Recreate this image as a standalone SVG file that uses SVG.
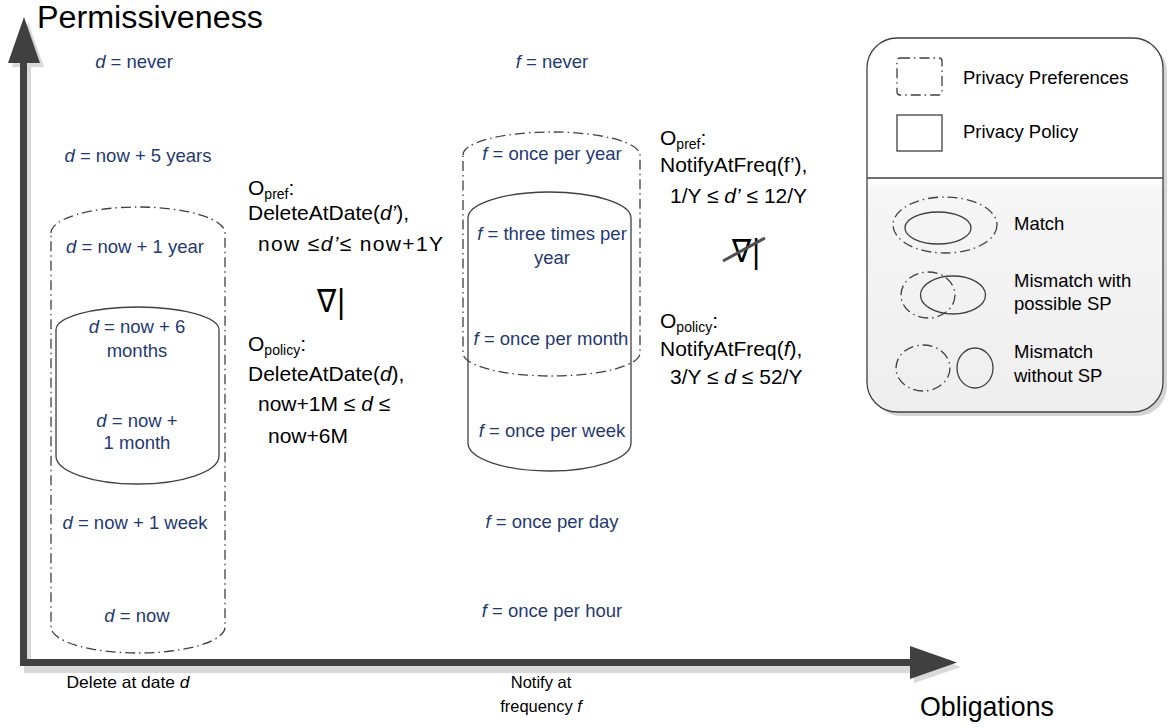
<svg xmlns="http://www.w3.org/2000/svg" width="1169" height="728" viewBox="0 0 1169 728">
<defs>
<linearGradient id="lg" x1="0" y1="0" x2="0" y2="1">
<stop offset="0" stop-color="#ffffff"/>
<stop offset="0.38" stop-color="#ffffff"/>
<stop offset="0.4" stop-color="#f6f6f6"/>
<stop offset="1" stop-color="#eeeeee"/>
</linearGradient>
<style>
.pref{fill:none;stroke:#404040;stroke-width:1.3;stroke-dasharray:10 4 1.5 4}
.pol{fill:none;stroke:#404040;stroke-width:1.3}
.blue{font-family:"Liberation Sans",Arial,sans-serif;font-size:18.5px;fill:#1f3a72;text-anchor:middle}
.blk{font-family:"Liberation Sans",Arial,sans-serif;font-size:21px;fill:#000}
.sub{font-size:14px}
.leg{font-family:"Liberation Sans",Arial,sans-serif;font-size:18.5px;fill:#000}
.small{font-family:"Liberation Sans",Arial,sans-serif;font-size:16.5px;fill:#000;text-anchor:middle}
.axis{fill:#404040}
.shadow{fill:#d9d9d9}
.sym{font-family:"DejaVu Sans",sans-serif;font-size:32px;fill:#000}
</style>
</defs>
<rect width="1169" height="728" fill="#ffffff"/>

<g id="axes">
<rect class="shadow" x="24" y="66" width="7" height="603"/>
<rect class="shadow" x="24" y="666" width="890" height="7"/>
<polygon class="shadow" points="914,650 961,667 914,683"/>
<polygon class="shadow" points="28,22 44,67 12,67"/>
<rect class="axis" x="20" y="60" width="7" height="606"/>
<rect class="axis" x="20" y="659" width="892" height="7"/>
<polygon class="axis" points="24,17 40,63 8,63"/>
<polygon class="axis" points="910,646 957,662.5 910,679"/>
<text x="37" y="28" font-family="'Liberation Sans',Arial,sans-serif" font-size="31" fill="#000" textLength="226" lengthAdjust="spacingAndGlyphs">Permissiveness</text>
<text x="920" y="716" font-family="'Liberation Sans',Arial,sans-serif" font-size="28" fill="#000" textLength="134" lengthAdjust="spacingAndGlyphs">Obligations</text>
<text class="small" x="128" y="688" textLength="123" lengthAdjust="spacingAndGlyphs">Delete at date <tspan font-style="italic">d</tspan></text>
<text class="small" x="541" y="688">Notify at</text>
<text class="small" x="541" y="712">frequency <tspan font-style="italic">f</tspan></text>
</g>

<g id="delete-preferences">
<path class="pref" d="M51,233 A87,26 0 0 1 225,233 L225,627 A87,26 0 0 1 51,627 Z"/>
</g>
<g id="delete-policy">
<path class="pol" d="M56,330 A81.5,23 0 0 1 219,330 L219,456 A81.5,28 0 0 1 56,456 Z"/>
</g>
<g id="delete-values">
<text class="blue" x="134" y="68"><tspan font-style="italic">d</tspan> = never</text>
<text class="blue" x="138" y="162"><tspan font-style="italic">d</tspan> = now + 5 years</text>
<text class="blue" x="135" y="253"><tspan font-style="italic">d</tspan> = now + 1 year</text>
<text class="blue" x="137" y="333"><tspan font-style="italic">d</tspan> = now + 6</text>
<text class="blue" x="137" y="357">months</text>
<text class="blue" x="137" y="427"><tspan font-style="italic">d</tspan> = now +</text>
<text class="blue" x="137" y="449">1 month</text>
<text class="blue" x="135" y="529"><tspan font-style="italic">d</tspan> = now + 1 week</text>
<text class="blue" x="137" y="622"><tspan font-style="italic">d</tspan> = now</text>
</g>

<g id="notify-preferences">
<path class="pref" d="M463,155 A88.5,23 0 0 1 640,155 L640,353 A88.5,23 0 0 1 463,353 Z"/>
</g>
<g id="notify-policy">
<path class="pol" d="M468,218 A81.5,26 0 0 1 631,218 L631,443 A81.5,28 0 0 1 468,443 Z"/>
</g>
<g id="notify-values">
<text class="blue" x="552" y="68"><tspan font-style="italic">f</tspan> = never</text>
<text class="blue" x="552" y="160"><tspan font-style="italic">f</tspan> = once per year</text>
<text class="blue" x="552" y="240"><tspan font-style="italic">f</tspan> = three times per</text>
<text class="blue" x="552" y="264">year</text>
<text class="blue" x="551" y="345"><tspan font-style="italic">f</tspan> = once per month</text>
<text class="blue" x="552" y="437"><tspan font-style="italic">f</tspan> = once per week</text>
<text class="blue" x="552" y="528"><tspan font-style="italic">f</tspan> = once per day</text>
<text class="blue" x="552" y="617"><tspan font-style="italic">f</tspan> = once per hour</text>
</g>

<g id="delete-relation">
<text class="blk" x="248" y="195">O<tspan class="sub" dy="4">pref</tspan><tspan dy="-4">:</tspan></text>
<text class="blk" x="248" y="220">DeleteAtDate(<tspan font-style="italic">d’</tspan>),</text>
<text class="blk" x="258" y="251" textLength="185" lengthAdjust="spacing">now ≤<tspan font-style="italic">d’</tspan>≤ now+1Y</text>
<text class="sym" x="317" y="312" textLength="29" lengthAdjust="spacingAndGlyphs">∇|</text>
<text class="blk" x="248" y="351">O<tspan class="sub" dy="4">policy</tspan><tspan dy="-4">:</tspan></text>
<text class="blk" x="248" y="381">DeleteAtDate(<tspan font-style="italic">d</tspan>),</text>
<text class="blk" x="258" y="411">now+1M ≤ <tspan font-style="italic">d</tspan> ≤</text>
<text class="blk" x="268" y="443">now+6M</text>
</g>

<g id="notify-relation">
<text class="blk" x="660" y="145">O<tspan class="sub" dy="4">pref</tspan><tspan dy="-4">:</tspan></text>
<text class="blk" x="660" y="172">NotifyAtFreq(f’),</text>
<text class="blk" x="670" y="203">1/Y ≤ <tspan font-style="italic">d’</tspan> ≤ 12/Y</text>
<text class="sym" x="732" y="262" textLength="29" lengthAdjust="spacingAndGlyphs">∇|</text>
<line x1="723" y1="261" x2="765" y2="238" stroke="#505050" stroke-width="3"/>
<text class="blk" x="660" y="328">O<tspan class="sub" dy="4">policy</tspan><tspan dy="-4">:</tspan></text>
<text class="blk" x="660" y="356">NotifyAtFreq(<tspan font-style="italic">f</tspan>),</text>
<text class="blk" x="670" y="384">3/Y ≤ <tspan font-style="italic">d</tspan> ≤ 52/Y</text>
</g>

<g id="legend">
<rect x="871" y="42" width="296" height="374" rx="30" fill="#d4d4d4"/>
<rect x="867" y="38" width="296" height="374" rx="30" fill="url(#lg)" stroke="#404040" stroke-width="1.3"/>
<line x1="867" y1="178" x2="1163" y2="178" stroke="#404040" stroke-width="1.3"/>
<rect class="pref" x="897" y="58" width="45" height="37" rx="3"/>
<text class="leg" x="963" y="84">Privacy Preferences</text>
<rect class="pol" x="897" y="115" width="45" height="36"/>
<text class="leg" x="963" y="138">Privacy Policy</text>
<ellipse class="pref" cx="945" cy="225" rx="52" ry="28"/>
<ellipse class="pol" cx="938" cy="228" rx="33" ry="16"/>
<text class="leg" x="1014" y="230">Match</text>
<ellipse class="pref" cx="928" cy="295" rx="27" ry="23"/>
<ellipse class="pol" cx="953" cy="295" rx="32.5" ry="19"/>
<text class="leg" x="1014" y="287">Mismatch with</text>
<text class="leg" x="1014" y="310">possible SP</text>
<ellipse class="pref" cx="923" cy="368" rx="27" ry="23"/>
<ellipse class="pol" cx="975" cy="368" rx="18" ry="20"/>
<text class="leg" x="1014" y="358">Mismatch</text>
<text class="leg" x="1014" y="382">without SP</text>
</g>
</svg>
